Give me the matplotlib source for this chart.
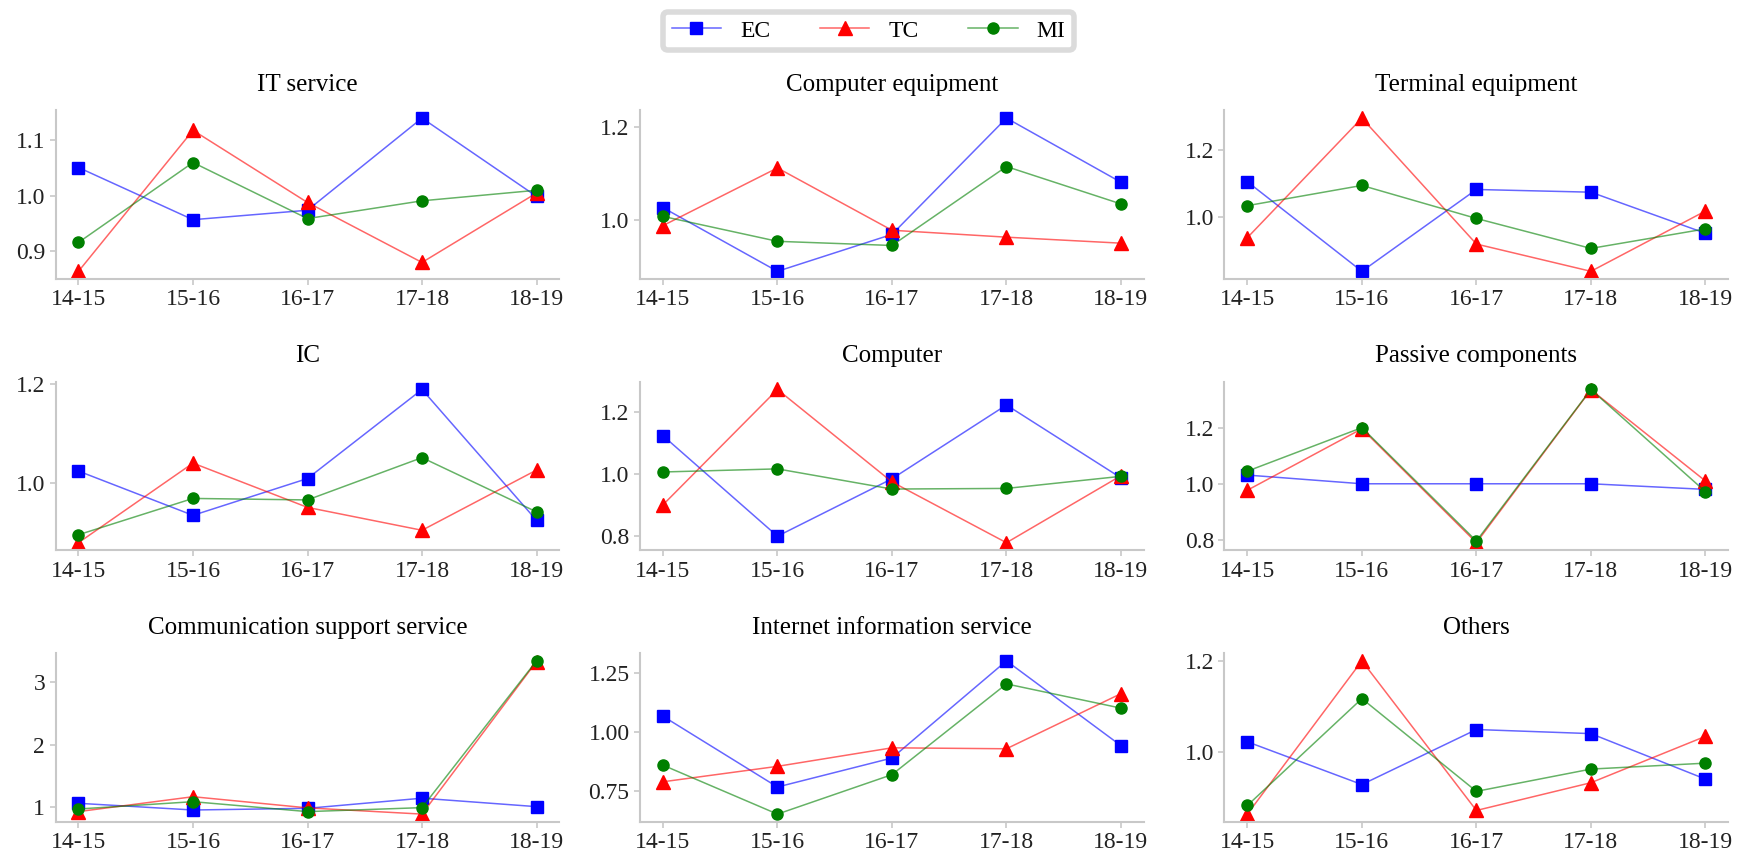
import numpy as np
import matplotlib
matplotlib.use('Agg')
import matplotlib.pyplot as plt
from matplotlib.ticker import FormatStrFormatter

plt.rcParams['font.family'] = ['Liberation Serif', 'DejaVu Serif']
plt.rcParams['font.size'] = 17

periods = ['14-15', '15-16', '16-17', '17-18', '18-19']
titles = ['IT service', 'Computer equipment', 'Terminal equipment',
          'IC', 'Computer', 'Passive components',
          'Communication support service', 'Internet information service', 'Others']

ec = [
    [1.051, 0.957, 0.974, 1.140, 0.999],
    [1.026, 0.888, 0.968, 1.220, 1.081],
    [1.106, 0.840, 1.083, 1.075, 0.953],
    [1.024, 0.935, 1.009, 1.188, 0.925],
    [1.124, 0.800, 0.985, 1.223, 0.988],
    [1.031, 1.000, 1.000, 1.000, 0.980],
    [1.054, 0.946, 0.973, 1.136, 1.000],
    [1.066, 0.768, 0.890, 1.299, 0.942],
    [1.022, 0.928, 1.049, 1.040, 0.940],
]
tc = [
    [0.864, 1.118, 0.988, 0.880, 1.005],
    [0.987, 1.112, 0.977, 0.962, 0.949],
    [0.940, 1.295, 0.921, 0.840, 1.019],
    [0.880, 1.040, 0.951, 0.905, 1.026],
    [0.901, 1.273, 0.975, 0.779, 0.995],
    [0.977, 1.196, 0.790, 1.335, 1.010],
    [0.920, 1.160, 0.980, 0.880, 3.337],
    [0.790, 0.855, 0.933, 0.929, 1.161],
    [0.863, 1.200, 0.871, 0.932, 1.034],
]
mi = [
    [0.916, 1.060, 0.959, 0.991, 1.010],
    [1.007, 0.953, 0.944, 1.115, 1.034],
    [1.035, 1.095, 0.997, 0.908, 0.966],
    [0.896, 0.969, 0.966, 1.051, 0.942],
    [1.007, 1.017, 0.952, 0.954, 0.993],
    [1.045, 1.200, 0.796, 1.336, 0.972],
    [0.962, 1.080, 0.920, 0.984, 3.348],
    [0.860, 0.654, 0.820, 1.202, 1.100],
    [0.882, 1.117, 0.913, 0.962, 0.975],
]
yticks = [
    [0.9, 1.0, 1.1], [1.0, 1.2], [1.0, 1.2],
    [1.0, 1.2], [0.8, 1.0, 1.2], [0.8, 1.0, 1.2],
    [1, 2, 3], [0.75, 1.00, 1.25], [1.0, 1.2],
]
yfmt = ['%.1f'] * 6 + ['%d', '%.2f', '%.1f']

series = [('EC', ec, 'blue', 's', 8), ('TC', tc, 'red', '^', 10), ('MI', mi, 'green', 'o', 8)]

fig, axes = plt.subplots(3, 3, figsize=(17.37, 8.56), dpi=100)
fig.subplots_adjust(left=0.032, right=0.995, bottom=0.04, top=0.871, wspace=0.16, hspace=0.61)

x = np.arange(len(periods))
handles = []
for i, ax in enumerate(axes.flat):
    for name, vals, col, mk, ms in series:
        rgba = matplotlib.colors.to_rgba(col, 0.6)
        h, = ax.plot(x, vals[i], color=rgba, lw=1.1, marker=mk, ms=ms,
                     mfc=col, mec=col, label=name)
        if i == 0:
            handles.append(h)
    ax.set_title(titles[i], fontsize=18, pad=14)
    ax.set_xticks(x)
    ax.set_xticklabels(periods)
    ax.set_yticks(yticks[i])
    ax.yaxis.set_major_formatter(FormatStrFormatter(yfmt[i]))
    for s in ['top', 'right']:
        ax.spines[s].set_visible(False)
    for s in ['left', 'bottom']:
        ax.spines[s].set_color('#c8c8c8')
        ax.spines[s].set_linewidth(1.5)
    ax.tick_params(colors='#c8c8c8', labelcolor='#222222', width=1.2, length=4)

leg = fig.legend(handles=handles, loc='upper center', bbox_to_anchor=(0.5, 1.0),
                 ncol=3, frameon=True, fancybox=True, handlelength=2.1,
                 columnspacing=2.1, handletextpad=0.8, borderpad=0.35)
leg.get_frame().set_edgecolor('#d3d3d3')
leg.get_frame().set_linewidth(4)

fig.savefig('out.png', dpi=100)
